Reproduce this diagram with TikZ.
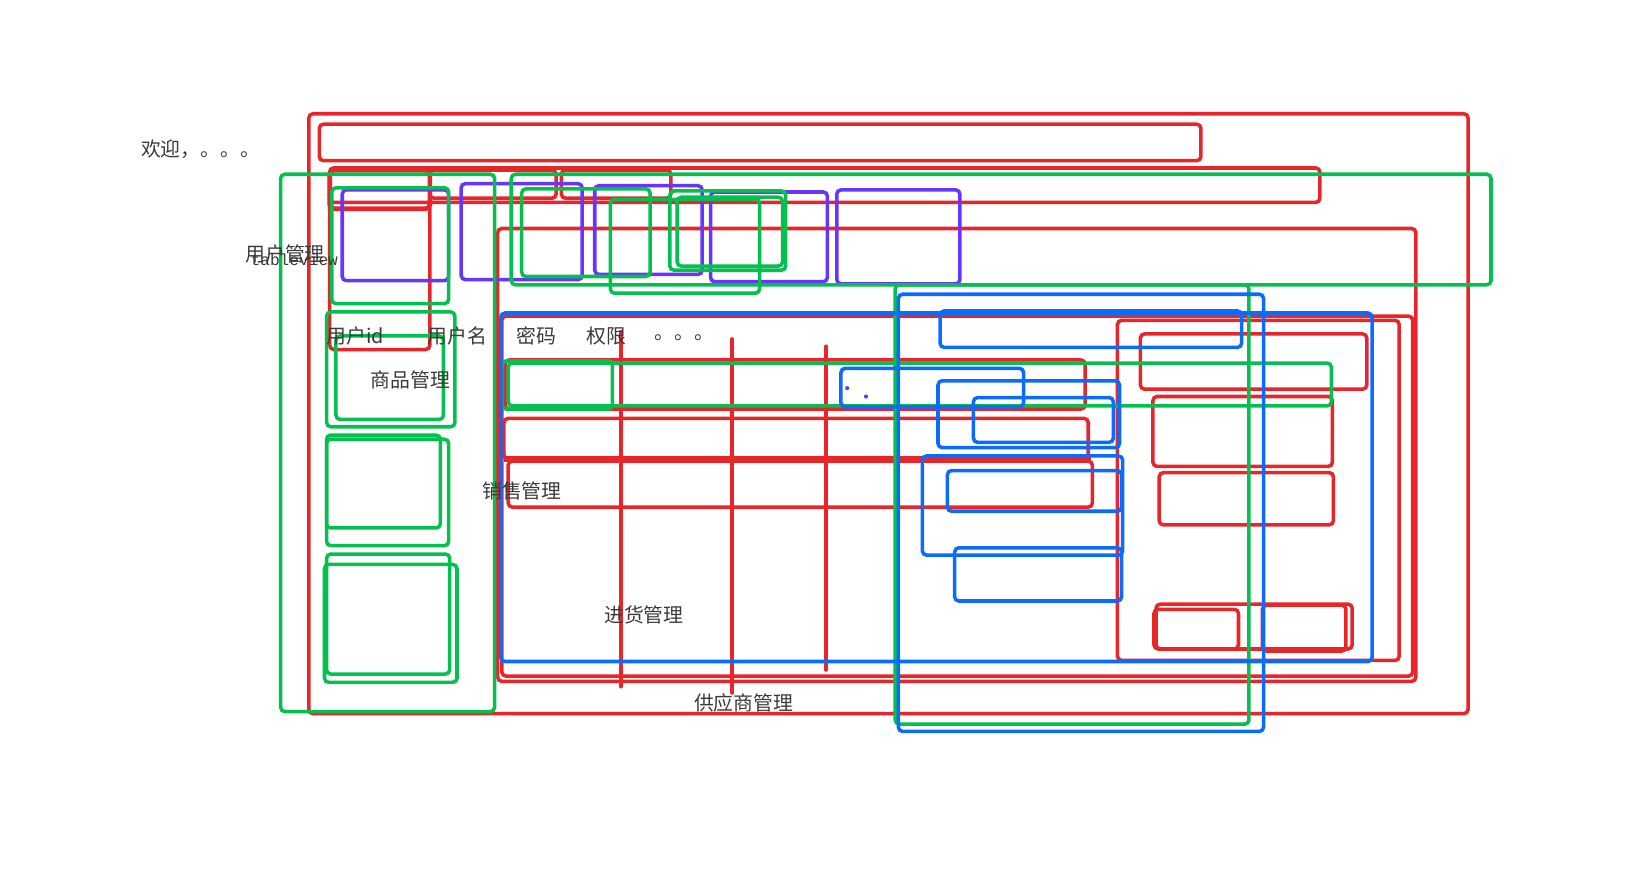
\documentclass[tikz,border=0pt]{standalone}
\usepackage{fontspec}
\newfontfamily\cjk{Noto Sans CJK SC}
\setmonofont{Liberation Mono}
\usepackage{tikz}
\usetikzlibrary{positioning}
\definecolor{wire-red}{HTML}{E8262A}
\definecolor{wire-green}{HTML}{05BF4E}
\definecolor{wire-purple}{HTML}{6636FF}
\definecolor{wire-blue}{HTML}{0A6BFF}
\definecolor{wire-text}{HTML}{3A3A3A}

\begin{document}
\begin{tikzpicture}[
  x=1pt, y=-1pt,
  redbox/.style={draw=wire-red, line width=3.4pt, rounded corners=4pt},
  greenbox/.style={draw=wire-green, line width=3.4pt, rounded corners=4pt},
  purplebox/.style={draw=wire-purple, line width=3.4pt, rounded corners=4pt},
  bluebox/.style={draw=wire-blue, line width=3.4pt, rounded corners=4pt},
  rule/.style={draw=wire-red, line width=3.8pt, line cap=round},
  lbl/.style={anchor=west, inner sep=0pt, text=wire-text, font=\cjk\fontsize{19}{21}\selectfont},
  monolbl/.style={anchor=west, inner sep=0pt, text=wire-text, font=\ttfamily\fontsize{15.5}{20}\selectfont}
]
  \useasboundingbox (0,0) rectangle (1568,841);

  % frame, header, tab bar
  \draw[redbox] (296,109) rectangle (1407,684);
  \draw[redbox] (306,119) rectangle (1151,154);
  \draw[redbox] (316,161) rectangle (1265,194);
  \draw[redbox, line width=4.5pt] (316,163) rectangle (412,200);
  \draw[redbox] (316,161) rectangle (412,335);
  \draw[redbox] (412,163) rectangle (533,190);
  \draw[redbox] (538,163) rectangle (643,190);

  % content area
  \draw[redbox] (477,219) rectangle (1357,653);
  \draw[redbox] (481,303) rectangle (1354,648);
  \draw[redbox] (1071,307) rectangle (1341,633);
  \foreach \xa/\ya/\xb/\yb in {1093/320/1310/373, 1105/380/1277/447, 1111/453/1278/503,
                               1108/579/1296/622, 1106/584/1187/622, 1210/580/1290/624} {
    \draw[redbox] (\xa,\ya) rectangle (\xb,\yb);
  }

  % table rows
  \draw[redbox] (484,345) rectangle (1040,392);
  \draw[redbox] (483,401) rectangle (1043,440);
  \draw[redbox, line width=5pt] (483,440) -- (1046,440);
  \draw[redbox] (487,442) rectangle (1047,486);

  % table columns
  \draw[rule] (595,318) -- (595,658);
  \draw[rule] (702,325) -- (702,664);
  \draw[rule] (792,332) -- (792,642);

  % tab buttons
  \foreach \xa/\ya/\xb/\yb in {328/182/430/269, 442/176/558/268, 570/178/673/263,
                               681/184/793/270, 802/182/920/272} {
    \draw[purplebox] (\xa,\ya) rectangle (\xb,\yb);
  }
  \fill[wire-purple] (812,372) circle (2pt) (830,380) circle (2pt);

  % groups
  \draw[greenbox] (269,167) rectangle (474,682);
  \draw[greenbox] (490,167) rectangle (1429,273);
  \foreach \xa/\ya/\xb/\yb in {318/180/430/291, 313/299/436/409, 322/322/425/402,
                               313/417/422/506, 313/421/430/523, 313/531/431/646,
                               311/541/438/654, 500/181/623/265, 585/191/728/281,
                               642/183/753/259, 649/189/750/255, 481/346/587/392,
                               487/348/1276/389, 858/273/1197/694} {
    \draw[greenbox] (\xa,\ya) rectangle (\xb,\yb);
  }

  % detail panels
  \draw[bluebox] (480,300) rectangle (1315,634);
  \foreach \xa/\ya/\xb/\yb in {861/282/1211/701, 901/298/1190/333, 806/353/981/390,
                               899/365/1073/429, 933/381/1067/424, 884/437/1076/532,
                               908/451/1075/490, 915/525/1075/576} {
    \draw[bluebox] (\xa,\ya) rectangle (\xb,\yb);
  }

  % labels
  \node[lbl] (welcome) at (135,143) {欢迎，。。。};
  \node[lbl] (usermgr) at (235,243) {用户管理};
  \node[monolbl] (tableview) at (240,249) {tableview};
  \node[lbl] (colid) at (313,322) {用户id};
  \node[lbl] (colname) at (410,322) {用户名};
  \node[lbl] (colpwd) at (495,322) {密码};
  \node[lbl] (colperm) at (562,322) {权限};
  \node[lbl] (colmore) at (627,324) {。。。};
  \node[lbl] (goodsmgr) at (355,364) {商品管理};
  \node[lbl] (salesmgr) at (462,471) {销售管理};
  \node[lbl] (stockmgr) at (579,589) {进货管理};
  \node[lbl] (suppliermgr) at (665,674) {供应商管理};
\end{tikzpicture}
\end{document}
